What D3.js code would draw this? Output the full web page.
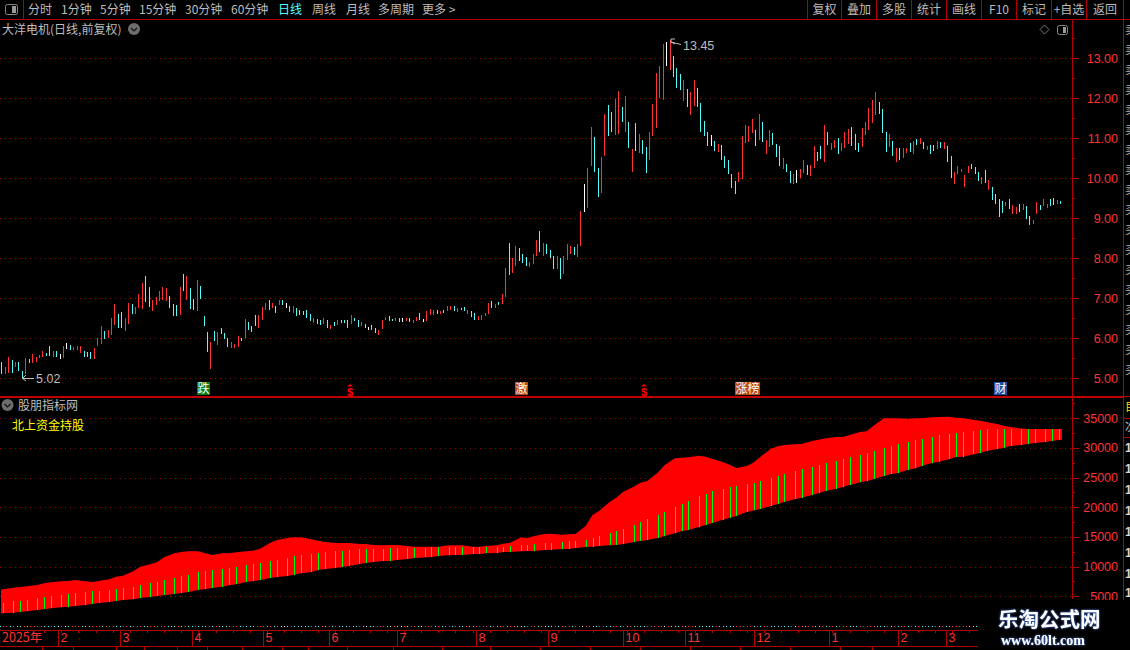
<!DOCTYPE html>
<html>
<head>
<meta charset="utf-8">
<script src="https://cdn.jsdelivr.net/npm/d3@7/dist/d3.min.js"></script>
<style>
html, body { margin: 0; padding: 0; background: #000; overflow: hidden; }
text { font-family: "Noto Sans CJK SC", "Liberation Sans", sans-serif; }
.num { font-family: "Liberation Sans", sans-serif; }
.crisp { shape-rendering: crispEdges; }
</style>
</head>
<body>
<svg id="chart" width="1130" height="650"></svg>
<script>
//daily bars, one entry per trading day
var barHighs = [
5.40,5.29,5.53,5.46,5.40,5.40,5.18,5.52,5.48,5.61,5.53,5.58,5.68,5.64,5.81,5.68,5.68,5.60,5.81,5.88,
5.83,5.78,5.81,5.81,5.68,5.66,5.66,5.76,6.00,6.31,6.19,6.21,6.51,6.86,6.61,6.66,6.51,6.89,6.86,6.79,
7.11,7.39,7.56,7.28,6.96,7.04,7.18,7.28,7.26,7.06,6.86,6.84,7.29,7.61,7.56,7.26,6.98,7.46,7.31,6.56,
6.16,5.91,6.19,6.16,6.26,6.14,6.00,5.91,5.86,6.06,6.01,6.48,6.41,6.31,6.59,6.59,6.79,6.88,6.96,6.89,
6.81,6.96,6.96,6.88,6.81,6.81,6.76,6.71,6.69,6.71,6.61,6.51,6.48,6.46,6.51,6.46,6.33,6.41,6.46,6.46,
6.46,6.46,6.59,6.51,6.46,6.41,6.36,6.29,6.34,6.26,6.21,6.46,6.54,6.56,6.49,6.51,6.51,6.51,6.51,6.51,
6.46,6.54,6.64,6.49,6.69,6.74,6.71,6.71,6.69,6.71,6.81,6.81,6.81,6.76,6.76,6.79,6.71,6.69,6.64,6.56,
6.59,6.64,6.89,6.94,6.86,6.91,7.11,7.76,8.39,8.01,8.31,8.26,8.11,8.04,7.91,8.11,8.46,8.69,8.39,8.36,
8.21,8.06,8.06,8.01,8.06,8.36,8.31,8.29,8.36,9.19,9.86,10.26,11.28,11.03,10.26,10.54,11.61,11.84,11.66,11.99,
12.19,11.79,12.06,11.41,10.74,11.39,11.11,10.96,10.79,11.16,11.86,12.64,12.81,13.36,13.41,13.45,13.06,12.76,12.61,12.46,
12.24,12.16,12.46,12.26,11.89,11.44,11.16,11.09,10.94,10.86,10.84,10.56,10.46,10.11,9.94,10.16,11.06,11.34,11.31,11.49,
11.21,11.61,11.41,10.96,11.21,11.14,10.86,10.81,10.51,10.36,10.19,10.11,10.21,10.24,10.46,10.34,10.34,10.81,10.66,10.81,
11.34,11.16,10.89,10.96,11.01,10.89,11.16,11.24,11.29,11.11,10.89,11.26,11.41,11.76,11.96,12.16,11.91,11.74,11.16,11.11,
10.94,10.76,10.76,10.76,10.76,10.89,10.94,10.99,11.01,10.91,10.81,10.84,10.84,10.94,10.91,10.91,10.81,10.56,10.16,10.31,
10.24,10.09,10.31,10.36,10.29,10.16,10.04,10.21,9.96,9.79,9.61,9.49,9.44,9.41,9.49,9.34,9.29,9.36,9.36,9.31,
9.06,8.96,9.41,9.34,9.49,9.36,9.49,9.51,9.46,9.44
];
var barLows = [
5.10,5.10,5.13,5.13,5.28,5.19,5.02,5.11,5.38,5.39,5.41,5.52,5.54,5.56,5.56,5.53,5.53,5.49,5.52,5.74,
5.72,5.71,5.72,5.64,5.54,5.54,5.49,5.49,5.81,5.86,5.99,6.01,6.09,6.33,6.26,6.25,6.19,6.36,6.61,6.60,
6.75,6.73,6.92,6.79,6.69,6.84,6.94,6.96,6.94,6.76,6.56,6.56,6.59,7.19,6.96,6.73,6.71,6.69,6.98,6.31,
5.66,5.23,5.93,5.83,6.11,5.99,5.78,5.76,5.76,5.78,5.93,6.00,6.21,6.16,6.31,6.26,6.46,6.71,6.71,6.76,
6.63,6.84,6.84,6.76,6.66,6.63,6.56,6.59,6.59,6.51,6.43,6.39,6.37,6.33,6.36,6.26,6.23,6.31,6.33,6.39,
6.39,6.26,6.36,6.44,6.29,6.31,6.26,6.21,6.21,6.14,6.09,6.24,6.46,6.44,6.44,6.44,6.41,6.41,6.44,6.41,
6.39,6.44,6.46,6.41,6.44,6.59,6.59,6.61,6.61,6.64,6.69,6.71,6.69,6.66,6.71,6.69,6.61,6.54,6.46,6.46,
6.46,6.56,6.61,6.76,6.76,6.84,6.86,7.04,7.59,7.64,7.81,7.94,7.89,7.81,7.79,7.86,8.06,8.16,8.06,8.11,
8.01,7.74,7.74,7.49,7.61,7.96,8.11,8.09,8.04,8.31,9.16,9.26,10.31,10.16,9.54,9.64,10.56,11.06,11.16,11.09,
11.11,11.41,11.16,10.76,10.16,10.69,10.64,10.61,10.14,10.46,11.06,11.26,12.01,11.96,12.81,12.71,12.54,12.26,12.21,11.94,
11.79,11.59,11.81,11.79,11.16,11.06,10.81,10.81,10.69,10.66,10.46,10.26,10.11,9.76,9.61,9.91,9.99,10.89,10.91,11.14,
10.81,10.96,10.91,10.61,10.79,10.84,10.54,10.31,10.24,10.16,9.89,9.86,9.89,10.01,10.14,10.09,10.06,10.26,10.44,10.49,
10.41,10.84,10.71,10.76,10.61,10.69,10.76,10.86,10.81,10.71,10.66,10.79,11.09,11.21,11.39,11.59,11.61,11.14,10.66,10.79,
10.56,10.41,10.46,10.51,10.64,10.66,10.61,10.84,10.86,10.74,10.71,10.61,10.69,10.74,10.76,10.74,10.41,10.01,9.86,10.11,
10.16,9.79,10.14,10.24,10.11,9.94,9.86,9.89,9.71,9.46,9.36,9.04,9.14,9.31,9.24,9.11,9.11,9.16,9.21,8.99,
8.84,8.86,9.11,9.21,9.31,9.26,9.31,9.34,9.36,9.36
];
//r up, c down, w flat
var barKinds = (
"crrcrccrcr" + "rrrccrcwrw" + "crrrcccrrr" + "crrrccrrcr" + "rrccrrrrrc" + "ccrcrccrcc" +
"crcrcccrrr" + "crcccrrrcr" + "crcwcrcccc" + "crccrcrcrc" + "ccrccrcwcc" + "rrrccrcwrc" +
"rrcwrrrcrc" + "rrcrccrccr" + "rrrcrcrrcr" + "rcccrrrcrc" + "ccrcrrrcrr" + "wrrccrrccr" +
"rcrcrcrccr" + "rrrrwrcccr" + "crrccccwcr" + "cccccrrrrr" + "crcrrcccrc" + "crwrrcrrcc" +
"rcrrcrrrcc" + "crrrrrcccr" + "crcrrcrcrc" + "rccrcrccrr" + "rrrcccrcrc" + "cccrcrrcrc" + "crrcrrccrc"
).split('');

//northbound holdings, sampled on the days that carry a green stick
var holdingBars = [
0,1,4,6,8,11,13,15,18,20,22,25,27,29,32,34,36,39,41,44,46,48,51,53,55,58,60,62,65,67,69,72,74,76,79,81,84,86,88,91,93,95,98,100,102,105,107,109,112,114,116,
119,121,124,126,128,131,133,135,138,140,142,145,147,149,152,154,156,159,161,164,166,168,171,173,175,178,180,182,185,187,189,192,194,197,199,201,204,206,208,211,213,215,
218,220,222,225,227,229,232,234,237,239,241,244,246,248,251,253,255,258,260,262,265,267,269,272,274,277,279,281,284,286,288,291,293,295,298,300,302,305,307,309,310
];
var holdingTop = [
6060,6170,6450,6570,6680,6900,7180,7350,7520,7580,7750,7520,7410,7580,7860,8310,8480,9210,9990,10390,10780,11570,12240,12460,12580,12580,12240,11960,12240,12240,12410,12580,12690,13030,14040,14490,14820,14940,14940,14600,14370,14150,13980,13980,13980,13810,13810,13640,13590,13640,13640,
13470,13360,13360,13360,13360,13590,13590,13590,13360,13360,13470,13590,13870,14040,14930,14820,15160,15500,15550,15380,15440,15500,16840,18700,19430,20890,21670,22630,23470,24150,24430,25830,27070,28250,28360,28420,28700,28530,28130,27630,27180,26620,
26960,27570,28530,29820,30270,30490,30610,30660,31170,31390,31620,31840,31840,32180,32680,32800,33750,34990,34990,34990,34930,34990,34990,35160,35210,35270,35100,35040,34760,34590,34370,34030,33750,33530,33300,33190,33190,33190,33190,33190,33190
];
var holdingLow = [
2020,2130,2240,2350,2470,2690,2800,2970,3140,3250,3360,3530,3700,3870,4040,4210,4380,4490,4710,4880,5050,5160,5390,5560,5720,6060,6230,6400,6620,6850,7020,7410,7580,7750,8080,8250,8420,8640,8870,9090,9430,9600,9770,9940,10100,10440,10610,10780,10950,10950,11120,
11280,11450,11560,11620,11790,11900,11960,11960,12130,12130,12240,12290,12460,12460,12580,12630,12630,12800,12860,12970,12970,13140,13310,13360,13470,13590,13640,13810,14150,14320,14490,14820,15160,15610,15950,16170,16680,17010,17350,17910,18250,18530,
19200,19480,19710,20210,20550,20890,21340,21620,22070,22410,22740,23140,23420,23750,24200,24430,24710,25270,25550,25780,26280,26560,26960,27460,27690,28080,28470,28530,28920,29150,29480,29820,30040,30330,30490,30660,30830,31000,31170,31340,31400
];
var stickTop = [
null,3870,4210,4210,4380,4710,4880,5050,5220,5440,5560,5720,5890,5890,6060,6230,6400,6570,6900,7240,7410,7750,8080,8420,8590,9090,9260,9430,9600,9770,9940,10270,10440,10610,10950,11120,11450,11790,11960,12130,12300,12460,12630,12630,12800,12970,12970,12970,12970,13140,13140,
13140,13140,13140,13310,13310,13310,13310,13310,13310,13310,13310,13310,13310,13470,13640,13640,13810,13980,13980,14150,14320,14320,14490,14820,15160,15670,16000,16340,17010,17520,18020,18700,19200,20050,20550,21060,21900,22240,22740,23080,23420,23590,
23920,24090,24430,24930,25270,25610,26110,26450,26790,27120,27460,27800,28130,28470,28810,29150,29480,29990,30330,30660,31000,31340,31510,31840,32180,32350,32520,32680,32850,33020,33190,33190,33190,33190,33190,33190,33190,33190,33190,33190,null
];

var priceTicks = [5, 6, 7, 8, 9, 10, 11, 12, 13];
var holdingTicks = [5000, 10000, 15000, 20000, 25000, 30000, 35000];
var monthBars = [17, 35, 56, 77, 96, 116, 139, 160, 182, 200, 220, 242, 262, 276];
var monthLabels = ['2', '3', '4', '5', '6', '7', '8', '9', '10', '11', '12', '1', '2', '3'];
var leftTabs = ['分时', '1分钟', '5分钟', '15分钟', '30分钟', '60分钟', '日线', '周线', '月线', '多周期', '更多 >'];
var rightTabs = ['复权', '叠加', '多股', '统计', '画线', 'F10', '标记', '+自选', '返回'];

var red = '#b00000', dotRed = '#9a0000', tickRed = '#ff3232', gray = '#bdbdbd';
var kindColor = {r: '#ff3232', c: '#54fcfc', w: '#ffffff'};

var svg = d3.select('#chart');

var xBar = d3.scaleLinear().domain([0, 309]).range([1.3, 1060.3]);
var xHolding = d3.scaleLinear().domain([0, 309]).range([-0.4, 1058.6]);
var yPrice = d3.scaleLinear().domain([5, 13]).range([378.4, 58.4]);
var yHolding = d3.scaleLinear().domain([5000, 35000]).range([596.3, 418.3]);

function addLine(x1, y1, x2, y2, color, width) {
    return svg.append('line').attr('class', 'crisp')
        .attr('x1', x1).attr('y1', y1).attr('x2', x2).attr('y2', y2)
        .attr('stroke', color).attr('stroke-width', width || 1);
}

function addText(x, y, str, color, size, anchor) {
    return svg.append('text').attr('x', x).attr('y', y)
        .attr('fill', color).attr('font-size', size)
        .attr('text-anchor', anchor || 'start')
        .text(str);
}

function buildGrid(ticks, scale) {
    svg.append('g').selectAll('line').data(ticks).enter().append('line')
        .attr('class', 'crisp')
        .attr('x1', 0).attr('x2', 1072)
        .attr('y1', function(d) { return Math.round(scale(d)) + 0.5; })
        .attr('y2', function(d) { return Math.round(scale(d)) + 0.5; })
        .attr('stroke', dotRed)
        .attr('stroke-dasharray', '1 4');
}

function buildBars() {
    svg.append('g').selectAll('line').data(barHighs).enter().append('line')
        .attr('class', 'crisp')
        .attr('x1', function(d, i) { return Math.round(xBar(i)) + 0.5; })
        .attr('x2', function(d, i) { return Math.round(xBar(i)) + 0.5; })
        .attr('y1', function(d) { return yPrice(d); })
        .attr('y2', function(d, i) { return yPrice(barLows[i]); })
        .attr('stroke-width', 1)
        .attr('stroke', function(d, i) { return kindColor[barKinds[i]]; });
}

function buildHolding() {
    var area = d3.area()
        .x(function(d) { return xHolding(d); })
        .y0(function(d, i) { return yHolding(holdingLow[i]); })
        .y1(function(d, i) { return yHolding(holdingTop[i]); });

    svg.append('clipPath').attr('id', 'holding-clip').append('rect')
        .attr('x', 1).attr('y', 400).attr('width', 1071).attr('height', 230);
    svg.append('path').datum(holdingBars).attr('d', area).attr('fill', '#ff0000')
        .attr('clip-path', 'url(#holding-clip)');

    var sticks = holdingBars.filter(function(d, i) { return stickTop[i] !== null; });
    svg.append('g').selectAll('line').data(sticks).enter().append('line')
        .attr('class', 'crisp')
        .attr('x1', function(d) { return Math.round(xHolding(d)) + 0.5; })
        .attr('x2', function(d) { return Math.round(xHolding(d)) + 0.5; })
        .attr('y1', function(d) { return yHolding(stickTop[holdingBars.indexOf(d)]); })
        .attr('y2', function(d) { return yHolding(holdingLow[holdingBars.indexOf(d)]); })
        .attr('stroke', '#00ff00');
}

function buildAxis(ticks, scale, fmt, minorStep, y1, y2) {
    addLine(1072.5, y1, 1072.5, y2, red, 1.5);
    var minors = d3.range(ticks[0] - minorStep, ticks[ticks.length - 1] + minorStep * 1.5, minorStep);
    svg.append('g').selectAll('line').data(minors).enter().append('line')
        .attr('class', 'crisp')
        .attr('x1', 1072).attr('y1', function(d) { return Math.round(scale(d)) + 0.5; })
        .attr('y2', function(d) { return Math.round(scale(d)) + 0.5; })
        .attr('x2', function(d) { return ticks.indexOf(d) >= 0 ? 1079 : 1075; })
        .attr('stroke', red)
        .style('display', function(d) { return scale(d) < y1 || scale(d) > y2 ? 'none' : null; });
    svg.append('g').selectAll('text').data(ticks).enter().append('text')
        .attr('class', 'num')
        .attr('x', 1118).attr('y', function(d) { return scale(d) + 4.5; })
        .attr('text-anchor', 'end')
        .attr('fill', tickRed).attr('font-size', 12.5)
        .style('font-family', '"Liberation Sans"')
        .text(fmt);
}

function buildToolbar() {
    addLine(0, 19.5, 1130, 19.5, red, 1);
    addLine(23.5, 0, 23.5, 19, red, 1);
    svg.append('rect').attr('x', 5.5).attr('y', 4.5).attr('width', 12).attr('height', 10).attr('rx', 2)
        .attr('fill', 'none').attr('stroke', '#888');
    svg.append('rect').attr('x', 12).attr('y', 6).attr('width', 4).attr('height', 7).attr('fill', '#999');

    var tabX = [28, 61, 100, 139, 185, 231, 278, 312, 346, 378, 422];
    leftTabs.forEach(function(t, i) {
        addText(tabX[i], 14, t, t === '日线' ? '#54ffff' : gray, 12);
    });

    var edges = [807, 841, 876, 911, 946, 981, 1016, 1051, 1086, 1123];
    edges.forEach(function(x) { addLine(x + 0.5, 0, x + 0.5, 19, red, 1); });
    rightTabs.forEach(function(t, i) {
        addText((edges[i] + edges[i + 1]) / 2 + 0.5, 14, t, gray, 12, 'middle');
    });
}

function buildChevron(cx, cy) {
    svg.append('circle').attr('cx', cx).attr('cy', cy).attr('r', 6).attr('fill', '#6e6e6e');
    svg.append('path').attr('d', 'M' + (cx - 3) + ',' + (cy - 1) + 'l3,3l3,-3')
        .attr('fill', 'none').attr('stroke', '#111').attr('stroke-width', 1.2);
}

function buildTitles() {
    addText(2, 34, '大洋电机(日线,前复权)', gray, 12);
    buildChevron(134, 29);
    addText(18, 410, '股朋指标网', gray, 12);
    buildChevron(7.5, 405);
    addText(12, 430, '北上资金持股', '#ffff00', 12);

    svg.append('path').attr('d', 'M1044.5,25l4.5,4.5l-4.5,4.5l-4.5,-4.5z').attr('fill', 'none').attr('stroke', '#777');
    svg.append('rect').attr('x', 1057.5).attr('y', 25.5).attr('width', 10).attr('height', 9).attr('rx', 2)
        .attr('fill', 'none').attr('stroke', '#888');
    svg.append('rect').attr('x', 1063).attr('y', 27).attr('width', 3).attr('height', 6).attr('fill', '#999');

    //high and low callouts
    svg.append('path').attr('d', 'M34,378.5H23M26,375l-3.5,3.5l3.5,2.5').attr('fill', 'none').attr('stroke', gray);
    addText(36, 383, '5.02', gray, 12.5).attr('class', 'num').style('font-family', '"Liberation Sans"');
    svg.append('path').attr('d', 'M681,44.5L671,42M671,42v-3h4M671,42l4,2').attr('fill', 'none').attr('stroke', gray);
    addText(683, 50, '13.45', gray, 12.5).attr('class', 'num').style('font-family', '"Liberation Sans"');
}

function buildBadges() {
    var badges = [
        {x: 197, w: 13, label: '跌', fill: '#0b7d0b'},
        {x: 515, w: 13, label: '激', fill: '#b94a12'},
        {x: 735, w: 25, label: '涨榜', fill: '#b94a12'},
        {x: 994, w: 13, label: '财', fill: '#1f4f9f'}
    ];
    badges.forEach(function(b) {
        svg.append('rect').attr('x', b.x).attr('y', 382).attr('width', b.w).attr('height', 13).attr('fill', b.fill);
        addText(b.x + b.w / 2, 393, b.label, '#fff', 12, 'middle');
    });
    [350, 644].forEach(function(x) {
        svg.append('path').attr('d', 'M' + x + ',384l3,2.5h-6z').attr('fill', '#ff0000');
        addText(x, 396, '$', '#ff0000', 11, 'middle').style('font-family', '"Liberation Sans"').attr('font-weight', 'bold');
    });
}

function buildTimeAxis() {
    //one dot per day, same colour as the bar
    svg.append('g').selectAll('rect').data(barKinds).enter().append('rect')
        .attr('class', 'crisp')
        .attr('x', function(d, i) { return Math.round(xHolding(i)); })
        .attr('y', 626).attr('width', 1).attr('height', 1)
        .attr('fill', function(d) { return kindColor[d]; });

    addLine(0, 630.5, 1130, 630.5, red, 1);
    addLine(0, 646.5, 1130, 646.5, red, 1);

    d3.range(3, 309, 5).forEach(function(k) {
        var x = Math.round(xHolding(k)) + 0.5;
        addLine(x, 630, x, 633, red, 1);
    });
    addText(2, 642, '2025年', tickRed, 12.5);
    monthBars.forEach(function(k, i) {
        var x = Math.round(xHolding(k)) + 0.5;
        addLine(x, 630, x, 646, red, 1);
        addText(x + 2, 642, monthLabels[i], tickRed, 12.5).style('font-family', '"Liberation Sans"');
    });
    [42, 73, 116, 144, 177, 207, 242, 282, 308, 347, 393, 442, 490, 540, 590, 640, 690, 740, 790, 840, 872].forEach(function(x) {
        addLine(x + 0.5, 647, x + 0.5, 650, red, 1);
    });
}

function buildSideStrip() {
    addLine(1123.5, 19, 1123.5, 600, red, 1);
    addLine(1123, 396.5, 1130, 396.5, red, 1);
    addLine(1123, 418.5, 1130, 418.5, red, 1);
    addLine(1123, 437.5, 1130, 437.5, red, 1);
    [34, 54, 74, 94, 114, 134, 154, 174, 194, 214, 234, 254, 274, 294, 314, 334, 354, 374].forEach(function(y, i) {
        addText(1125, y, i < 9 ? '卖' : '买', '#a8a8a8', 11.5);
    });
    addText(1125, 411, '目', '#ffe000', 11.5);
    addText(1125, 431, '次', '#d0d0d0', 11.5);
    [452, 473, 494, 515, 536, 557, 578, 597].forEach(function(y) {
        addText(1125, y, '1', '#d8d8d8', 12).style('font-family', '"Liberation Sans"').attr('font-weight', 'bold');
    });
}

function buildWatermark() {
    svg.append('rect').attr('x', 978).attr('y', 600).attr('width', 152).attr('height', 50).attr('fill', '#000');
    addText(998, 627, '乐淘公式网', '#ffffff', 20.5).attr('font-weight', 'bold')
        .style('filter', 'drop-shadow(0 0 1px #5a8cff)');
    addText(1001, 645, 'www.60lt.com', '#ffffff', 14).attr('font-weight', 'bold')
        .style('font-family', '"Liberation Serif"')
        .style('filter', 'drop-shadow(0 0 1px #5a8cff)');
}

buildGrid(priceTicks, yPrice);
buildGrid(holdingTicks, yHolding);
buildBars();
buildHolding();
addLine(0, 396.5, 1123, 396.5, '#c00000', 2);
buildAxis(priceTicks, yPrice, d3.format('.2f'), 0.5, 19, 396);
buildAxis(holdingTicks, yHolding, function(d) { return d; }, 2500, 397, 599);
buildToolbar();
buildTitles();
buildBadges();
buildTimeAxis();
buildSideStrip();
buildWatermark();
</script>
</body>
</html>
